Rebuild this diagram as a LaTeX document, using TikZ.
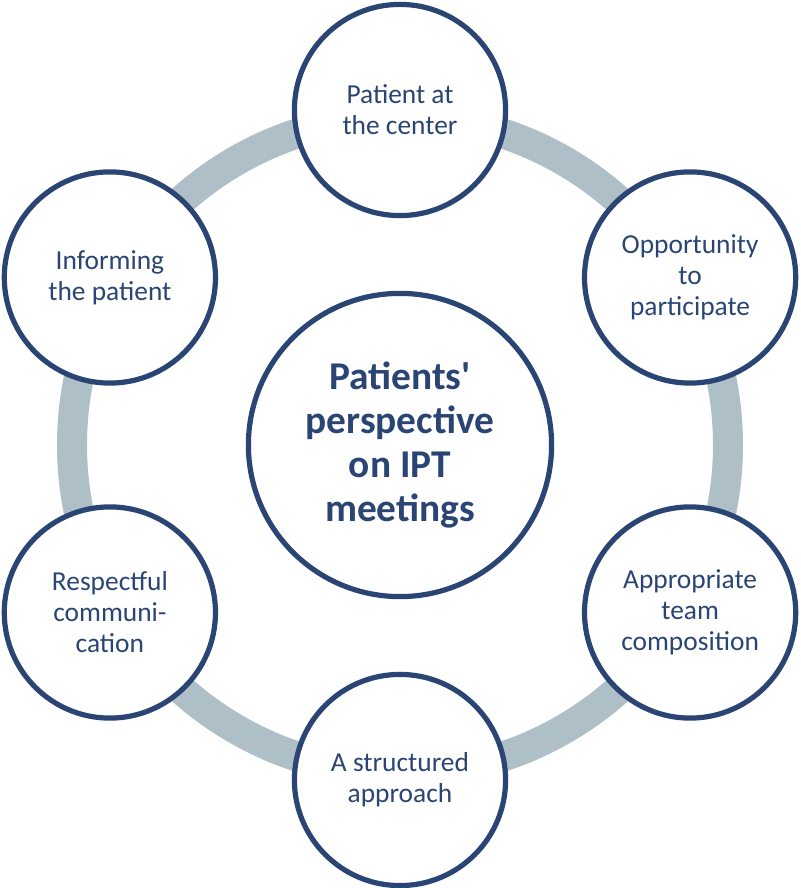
\documentclass[tikz,border=0pt]{standalone}
\usepackage{fontspec}
\setmainfont{Carlito}
\usepackage{xcolor}
\usepackage{tikz}
\usetikzlibrary{positioning}

\definecolor{navy}{RGB}{42,69,116}
\definecolor{ringgray}{RGB}{174,191,199}

\begin{document}
\begin{tikzpicture}[
  topic/.style={circle, draw=navy, line width=0.13cm, fill=white, minimum size=5.28cm, align=center, text=navy, font=\fontsize{19.5}{22}\selectfont},
  hub/.style={topic, minimum size=7.58cm, font=\fontsize{28}{31.5}\selectfont\bfseries}
]
\useasboundingbox (-10,-11.075) rectangle (10,11.125);
\draw[ringgray, line width=0.75cm] (0,0) circle (8.2);
\node[hub] (hub) at (0,0) {Patients\textquotesingle\\perspective\\on IPT\\meetings};
\node[topic] (center) at (90:8.375) {Patient at\\the center};
\node[topic] (part) at (30:8.375) {Opportunity\\to\\participate};
\node[topic] (team) at (-30:8.375) {Appropriate\\team\\composition};
\node[topic] (struct) at (-90:8.375) {A structured\\approach};
\node[topic] (comm) at (-150:8.375) {Respectful\\communi-\\cation};
\node[topic] (inform) at (150:8.375) {Informing\\the patient};
\end{tikzpicture}
\end{document}
